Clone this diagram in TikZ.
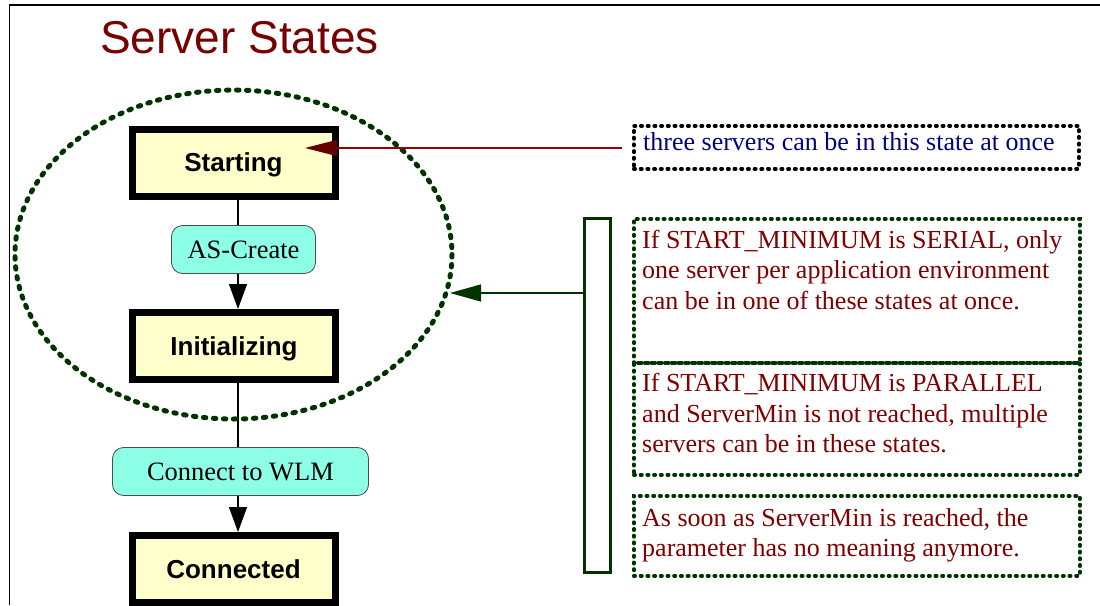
\documentclass[tikz,border=0pt]{standalone}
\usepackage{fontspec}
\setmainfont{Liberation Serif}
\newfontfamily\headsans{Liberation Sans}
\usetikzlibrary{arrows.meta}

\definecolor{titlered}{HTML}{770000}
\definecolor{notered}{HTML}{800000}
\definecolor{notenavy}{HTML}{000080}
\definecolor{stategreen}{HTML}{003300}
\definecolor{statefill}{HTML}{FFFFCC}
\definecolor{actionfill}{HTML}{8CFFE6}
\definecolor{pointerred}{HTML}{990000}
\definecolor{pointerhead}{HTML}{660000}

\begin{document}
\begin{tikzpicture}[x=1pt,y=-1pt,
  statebox/.style={draw=black, line width=7pt, fill=statefill,
    minimum width=203pt, minimum height=67pt, inner sep=0pt, text depth=0pt,
    font=\headsans\bfseries\fontsize{26}{30}\selectfont},
  actionbox/.style={draw=black!70, line width=0.8pt, fill=actionfill,
    rounded corners=11pt, inner sep=0pt, minimum height=48pt,
    font=\fontsize{26.5}{30}\selectfont},
  link/.style={draw=black, line width=1.1pt},
  bigtip/.style={-{Triangle[length=25pt,width=18pt]}},
  groupring/.style={draw=stategreen, line width=5pt, line cap=round,
    dash pattern=on 2.5pt off 7.5pt},
  noteframe/.style={line width=3.6pt, line cap=round, dash pattern=on 1.4pt off 5.3pt,
    inner sep=0pt, anchor=north west},
  notetext/.style={inner sep=0pt, anchor=north west, align=left,
    font=\fontsize{26}{30.5}\selectfont},
  bracketbar/.style={draw=stategreen, line width=3pt, inner sep=0pt},
]
\useasboundingbox (0,0) rectangle (1100,605);

% page frame
\draw[line width=1.5pt] (1100,5) -- (9.5,5) -- (9.5,605);

% title
\node[anchor=base west, inner sep=0pt, text=titlered,
      font=\headsans\fontsize{46}{50}\selectfont] (title) at (100,53) {Server States};

% state chain
\coordinate (spine) at (238,0);
\node[statebox] (start) at (233.5,162.5) {Starting};
\node[actionbox, minimum width=144pt] (ascreate) at (243.5,249.5) {AS-Create};
\node[statebox] (init) at (234,346) {Initializing};
\node[actionbox, minimum width=256pt] (wlm) at (240.5,471.5) {Connect to WLM};
\node[statebox, minimum height=67pt] (conn) at (233.5,569) {Connected};

\draw[link] (start.south -| spine) -- (ascreate.north -| spine);
\draw[link, bigtip] (ascreate.south -| spine) -- (init.north -| spine);
\draw[link] (init.south -| spine) -- (wlm.north -| spine);
\draw[link, bigtip] (wlm.south -| spine) -- (conn.north -| spine);

% group of start-up states
\draw[groupring] (233.5,254.5) ellipse [x radius=218.5, y radius=164.5];

% note on the Starting state
\node[noteframe, draw=black, minimum width=445pt, minimum height=43pt] (note) at (632,124) {};
\node[notetext, anchor=base west, text=notenavy] (notetxt) at (643,150)
  {three servers can be in this state at once};
\coordinate (starttip) at (305,148);
\draw[draw=pointerred, line width=1.2pt, shorten <=10pt,
      -{Triangle[length=32pt,width=16pt,color=pointerhead]}]
  (note.west |- starttip) -- (starttip);

% START_MINIMUM rules
\node[noteframe, draw=stategreen, minimum width=446pt, minimum height=144pt] (ruleA) at (632,217) {};
\node[noteframe, draw=stategreen, minimum width=446pt, minimum height=112pt] (ruleB) at (632,361) {};
\node[noteframe, draw=stategreen, minimum width=446pt, minimum height=80pt] (ruleC) at (632,494) {};

\node[notetext, text=notered] (ruleAtxt) at (642,229.5)
  {If START\_MINIMUM is SERIAL, only\\one server per application environment\\can be in one of these states at once.};
\node[notetext, text=notered] (ruleBtxt) at (642,373)
  {If START\_MINIMUM is PARALLEL\\and ServerMin is not reached, multiple\\servers can be in these states.};
\node[notetext, text=notered] (ruleCtxt) at (642,508)
  {As soon as ServerMin is reached, the\\parameter has no meaning anymore.};

% bracket collecting the rules, pointing at the group
\node[bracketbar, minimum width=26pt, minimum height=354pt] (bracket) at (597.5,395.5) {};
\coordinate (ringtip) at (450,293);
\draw[draw=stategreen, line width=1.2pt,
      -{Triangle[length=31pt,width=17pt]}]
  (bracket.west |- ringtip) -- (ringtip);
\end{tikzpicture}
\end{document}
